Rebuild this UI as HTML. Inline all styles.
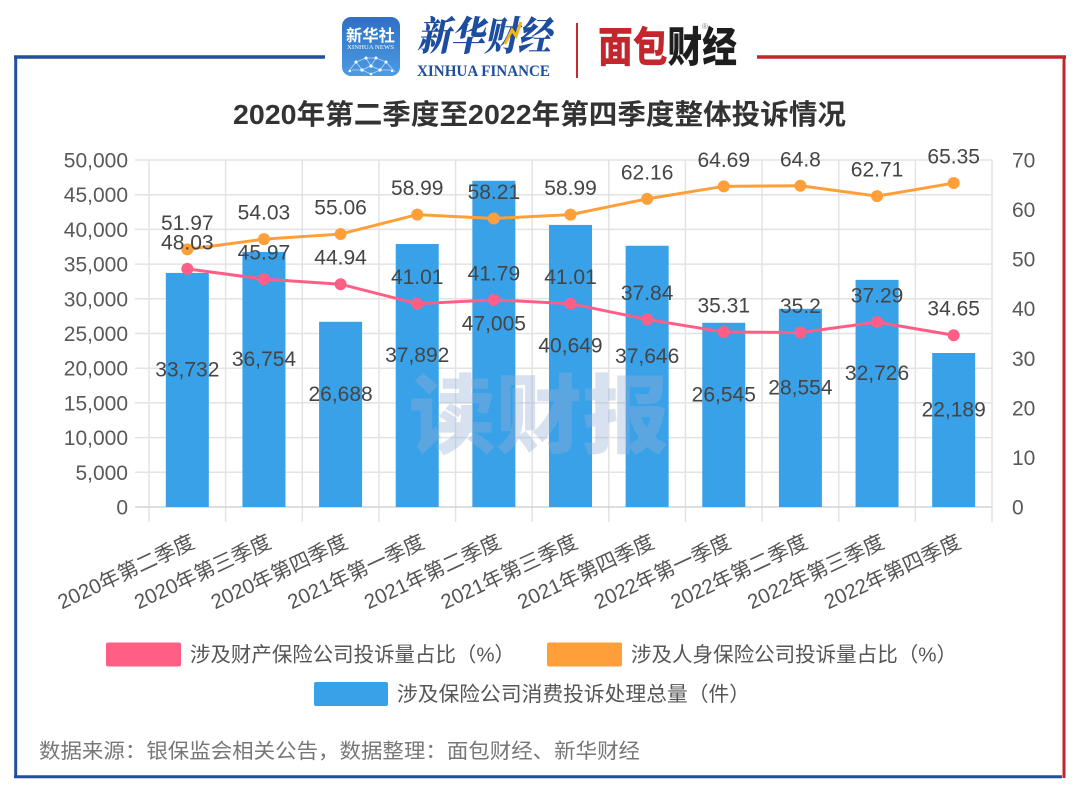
<!DOCTYPE html>
<html>
<head>
<meta charset="utf-8">
<style>
  html,body{margin:0;padding:0;background:#fff;}
  body{width:1080px;height:794px;overflow:hidden;}
  svg{display:block;}
  .t{font-family:"Liberation Sans","Noto Sans CJK SC",sans-serif;}
  .cjk{font-family:"Liberation Sans","Noto Sans CJK SC",sans-serif;}
</style>
</head>
<body>
<svg width="1080" height="794" viewBox="0 0 1080 794" xmlns="http://www.w3.org/2000/svg">
  <defs>
    <linearGradient id="appg" x1="0" y1="0" x2="0" y2="1">
      <stop offset="0" stop-color="#2f6fc4"/>
      <stop offset="1" stop-color="#4b9be3"/>
    </linearGradient>
  </defs>
  <rect x="0" y="0" width="1080" height="794" fill="#fff"/>

  <!-- frame -->
  <line x1="14" y1="57" x2="325" y2="57" stroke="#23509a" stroke-width="3.5"/>
  <line x1="15.7" y1="56" x2="15.7" y2="778" stroke="#23509a" stroke-width="3"/>
  <line x1="14" y1="776.7" x2="1062" y2="776.7" stroke="#23509a" stroke-width="3"/>
  <line x1="757" y1="57" x2="1066" y2="57" stroke="#c0262d" stroke-width="3.5"/>
  <line x1="1064" y1="56" x2="1064" y2="778" stroke="#c0262d" stroke-width="3"/>

  <!-- header logos -->
  <rect x="342" y="17" width="58" height="59" rx="9" fill="url(#appg)"/>
  <text x="346" y="41" class="cjk" font-size="16" font-weight="bold" fill="#fff" textLength="49" lengthAdjust="spacingAndGlyphs">新华社</text>
  <text x="347" y="49" font-family="Liberation Serif,serif" font-size="6.5" fill="#fff" textLength="47" lengthAdjust="spacingAndGlyphs">XINHUA NEWS</text>
  <g stroke="#cfe4ff" stroke-width="0.8" fill="none" opacity="0.85">
    <polyline points="348,72 356,62 366,58 376,58 386,62 395,72"/>
    <polyline points="356,62 362,70 371,66 380,70 386,62"/>
    <polyline points="366,58 371,66 376,58"/>
    <polyline points="352,70 362,70 371,74 380,70 392,70"/>
  </g>
  <g fill="#fff">
    <circle cx="356" cy="62" r="1.5"/><circle cx="366" cy="58" r="1.5"/><circle cx="376" cy="58" r="1.5"/>
    <circle cx="386" cy="62" r="1.5"/><circle cx="362" cy="70" r="1.6"/><circle cx="371" cy="66" r="1.6"/>
    <circle cx="380" cy="70" r="1.6"/><circle cx="371" cy="74" r="1.3"/><circle cx="350" cy="71" r="1.2"/><circle cx="392" cy="71" r="1.2"/>
  </g>

  <text x="417" y="50" font-family="Noto Serif CJK SC,serif" font-size="40" font-weight="900" fill="#1c4d9e" textLength="134" lengthAdjust="spacingAndGlyphs" font-style="italic">新华财经</text>
  <path d="M505 44 L512 30 L516 36 L521 22" stroke="#f2b51b" stroke-width="3" fill="none"/>
  <text x="417" y="76" font-family="Liberation Serif,serif" font-size="16" font-weight="bold" fill="#1c4d9e" textLength="133" lengthAdjust="spacingAndGlyphs">XINHUA FINANCE</text>

  <line x1="577" y1="23" x2="577" y2="78" stroke="#c8282e" stroke-width="2"/>

  <text x="598" y="62" class="cjk" font-size="42" font-weight="900" textLength="139" lengthAdjust="spacingAndGlyphs"><tspan fill="#c1272d">面包</tspan><tspan fill="#1e1e1e">财经</tspan></text>
  <text x="702" y="29" font-family="Liberation Sans,sans-serif" font-size="8" fill="#888">®</text>

  <!-- title -->
  <text x="233" y="124" class="t" font-size="28" font-weight="bold" fill="#333" textLength="613" lengthAdjust="spacingAndGlyphs">2020年第二季度至2022年第四季度整体投诉情况</text>

  <!-- grid -->
  <g stroke="#e3e3e3" stroke-width="1.5">
    <line x1="135" y1="160" x2="992" y2="160"/>
    <line x1="135" y1="194.7" x2="992" y2="194.7"/>
    <line x1="135" y1="229.4" x2="992" y2="229.4"/>
    <line x1="135" y1="264.1" x2="992" y2="264.1"/>
    <line x1="135" y1="298.8" x2="992" y2="298.8"/>
    <line x1="135" y1="333.5" x2="992" y2="333.5"/>
    <line x1="135" y1="368.2" x2="992" y2="368.2"/>
    <line x1="135" y1="402.9" x2="992" y2="402.9"/>
    <line x1="135" y1="437.6" x2="992" y2="437.6"/>
    <line x1="135" y1="472.3" x2="992" y2="472.3"/>
    <line x1="149" y1="160" x2="149" y2="522"/>
    <line x1="225.64" y1="160" x2="225.64" y2="522"/>
    <line x1="302.27" y1="160" x2="302.27" y2="522"/>
    <line x1="378.91" y1="160" x2="378.91" y2="522"/>
    <line x1="455.55" y1="160" x2="455.55" y2="522"/>
    <line x1="532.18" y1="160" x2="532.18" y2="522"/>
    <line x1="608.82" y1="160" x2="608.82" y2="522"/>
    <line x1="685.45" y1="160" x2="685.45" y2="522"/>
    <line x1="762.09" y1="160" x2="762.09" y2="522"/>
    <line x1="838.73" y1="160" x2="838.73" y2="522"/>
    <line x1="915.36" y1="160" x2="915.36" y2="522"/>
    <line x1="992" y1="160" x2="992" y2="522"/>
  </g>
  <line x1="135" y1="507" x2="992" y2="507" stroke="#d4d4d4" stroke-width="1.5"/>

  <!-- left axis labels -->
  <g class="t" font-size="21" fill="#595959" text-anchor="end">
    <text x="128" y="167.5">50,000</text>
    <text x="128" y="202.2">45,000</text>
    <text x="128" y="236.9">40,000</text>
    <text x="128" y="271.6">35,000</text>
    <text x="128" y="306.3">30,000</text>
    <text x="128" y="341">25,000</text>
    <text x="128" y="375.7">20,000</text>
    <text x="128" y="410.4">15,000</text>
    <text x="128" y="445.1">10,000</text>
    <text x="128" y="479.8">5,000</text>
    <text x="128" y="514.5">0</text>
  </g>
  <!-- right axis labels -->
  <g class="t" font-size="21" fill="#595959">
    <text x="1012" y="167.5">70</text>
    <text x="1012" y="217.07">60</text>
    <text x="1012" y="266.64">50</text>
    <text x="1012" y="316.21">40</text>
    <text x="1012" y="365.79">30</text>
    <text x="1012" y="415.36">20</text>
    <text x="1012" y="464.93">10</text>
    <text x="1012" y="514.5">0</text>
  </g>

  <!-- bars -->
  <g fill="#38a1e8">
    <rect x="165.82" y="272.90" width="43" height="234.10"/>
    <rect x="242.45" y="251.93" width="43" height="255.07"/>
    <rect x="319.09" y="321.78" width="43" height="185.22"/>
    <rect x="395.73" y="244.03" width="43" height="262.97"/>
    <rect x="472.36" y="180.79" width="43" height="326.21"/>
    <rect x="549.00" y="224.90" width="43" height="282.10"/>
    <rect x="625.64" y="245.74" width="43" height="261.26"/>
    <rect x="702.27" y="322.78" width="43" height="184.22"/>
    <rect x="778.91" y="308.84" width="43" height="198.16"/>
    <rect x="855.55" y="279.88" width="43" height="227.12"/>
    <rect x="932.18" y="353.01" width="43" height="153.99"/>
  </g>

  <!-- watermark -->
  <text x="409" y="446" class="cjk" font-size="86" font-weight="900" fill="rgba(150,175,212,0.38)" textLength="260" lengthAdjust="spacingAndGlyphs">读财报</text>

  <!-- lines -->
  <polyline fill="none" stroke="#ff9f3a" stroke-width="3" points="187.32,249.38 263.95,239.17 340.59,234.06 417.23,214.58 493.86,218.45 570.5,214.58 647.14,198.87 723.77,186.32 800.41,185.78 877.05,196.14 953.68,183.05"/>
  <g fill="#ff9f3a">
    <circle cx="187.32" cy="249.38" r="6"/><circle cx="263.95" cy="239.17" r="6"/><circle cx="340.59" cy="234.06" r="6"/>
    <circle cx="417.23" cy="214.58" r="6"/><circle cx="493.86" cy="218.45" r="6"/><circle cx="570.5" cy="214.58" r="6"/>
    <circle cx="647.14" cy="198.87" r="6"/><circle cx="723.77" cy="186.32" r="6"/><circle cx="800.41" cy="185.78" r="6"/>
    <circle cx="877.05" cy="196.14" r="6"/><circle cx="953.68" cy="183.05" r="6"/>
  </g>
  <polyline fill="none" stroke="#ff5f87" stroke-width="3" points="187.32,268.91 263.95,279.12 340.59,284.23 417.23,303.71 493.86,299.84 570.5,303.71 647.14,319.42 723.77,331.96 800.41,332.51 877.05,322.15 953.68,335.24"/>
  <g fill="#ff5f87">
    <circle cx="187.32" cy="268.91" r="6"/><circle cx="263.95" cy="279.12" r="6"/><circle cx="340.59" cy="284.23" r="6"/>
    <circle cx="417.23" cy="303.71" r="6"/><circle cx="493.86" cy="299.84" r="6"/><circle cx="570.5" cy="303.71" r="6"/>
    <circle cx="647.14" cy="319.42" r="6"/><circle cx="723.77" cy="331.96" r="6"/><circle cx="800.41" cy="332.51" r="6"/>
    <circle cx="877.05" cy="322.15" r="6"/><circle cx="953.68" cy="335.24" r="6"/>
  </g>

  <!-- data labels -->
  <g class="t" font-size="21" fill="#454545" text-anchor="middle">
    <!-- bars -->
    <text x="187.32" y="376.45">33,732</text>
    <text x="263.95" y="365.97">36,754</text>
    <text x="340.59" y="400.89">26,688</text>
    <text x="417.23" y="362.02">37,892</text>
    <text x="493.86" y="330.4">47,005</text>
    <text x="570.5" y="352.45">40,649</text>
    <text x="647.14" y="362.87">37,646</text>
    <text x="723.77" y="401.39">26,545</text>
    <text x="800.41" y="394.42">28,554</text>
    <text x="877.05" y="379.94">32,726</text>
    <text x="953.68" y="416.51">22,189</text>
    <!-- orange -->
    <text x="187.32" y="229.88">51.97</text>
    <text x="263.95" y="219.67">54.03</text>
    <text x="340.59" y="214.56">55.06</text>
    <text x="417.23" y="195.08">58.99</text>
    <text x="493.86" y="198.95">58.21</text>
    <text x="570.5" y="195.08">58.99</text>
    <text x="647.14" y="179.37">62.16</text>
    <text x="723.77" y="166.82">64.69</text>
    <text x="800.41" y="166.28">64.8</text>
    <text x="877.05" y="176.64">62.71</text>
    <text x="953.68" y="163.55">65.35</text>
    <!-- pink -->
    <text x="187.32" y="249.41">48.03</text>
    <text x="263.95" y="259.62">45.97</text>
    <text x="340.59" y="264.73">44.94</text>
    <text x="417.23" y="284.21">41.01</text>
    <text x="493.86" y="280.34">41.79</text>
    <text x="570.5" y="284.21">41.01</text>
    <text x="647.14" y="299.92">37.84</text>
    <text x="723.77" y="312.46">35.31</text>
    <text x="800.41" y="313.01">35.2</text>
    <text x="877.05" y="302.65">37.29</text>
    <text x="953.68" y="315.74">34.65</text>
  </g>

  <!-- x labels -->
  <g class="t" font-size="20.5" fill="#555" text-anchor="end" dominant-baseline="central">
    <text transform="translate(193.3,541) rotate(-25)">2020年第二季度</text>
    <text transform="translate(269.95,541) rotate(-25)">2020年第三季度</text>
    <text transform="translate(346.59,541) rotate(-25)">2020年第四季度</text>
    <text transform="translate(423.23,541) rotate(-25)">2021年第一季度</text>
    <text transform="translate(499.86,541) rotate(-25)">2021年第二季度</text>
    <text transform="translate(576.5,541) rotate(-25)">2021年第三季度</text>
    <text transform="translate(653.14,541) rotate(-25)">2021年第四季度</text>
    <text transform="translate(729.77,541) rotate(-25)">2022年第一季度</text>
    <text transform="translate(806.41,541) rotate(-25)">2022年第二季度</text>
    <text transform="translate(883.05,541) rotate(-25)">2022年第三季度</text>
    <text transform="translate(959.68,541) rotate(-25)">2022年第四季度</text>
  </g>

  <!-- legend -->
  <rect x="106" y="642.5" width="75" height="24" rx="2" fill="#ff5f84"/>
  <text x="190" y="661.5" class="cjk" font-size="20.5" fill="#555" textLength="325" lengthAdjust="spacingAndGlyphs">涉及财产保险公司投诉量占比（%）</text>
  <rect x="547" y="642.5" width="75" height="24" rx="2" fill="#ff9f3a"/>
  <text x="631" y="661.5" class="cjk" font-size="20.5" fill="#555" textLength="326" lengthAdjust="spacingAndGlyphs">涉及人身保险公司投诉量占比（%）</text>
  <rect x="314" y="682" width="74" height="24" rx="2" fill="#38a1e8"/>
  <text x="397" y="701" class="cjk" font-size="20.5" fill="#555" textLength="353" lengthAdjust="spacingAndGlyphs">涉及保险公司消费投诉处理总量（件）</text>

  <!-- source -->
  <text x="39" y="758" class="cjk" font-size="20.5" fill="#777" textLength="601" lengthAdjust="spacingAndGlyphs">数据来源：银保监会相关公告，数据整理：面包财经、新华财经</text>
</svg>
</body>
</html>
